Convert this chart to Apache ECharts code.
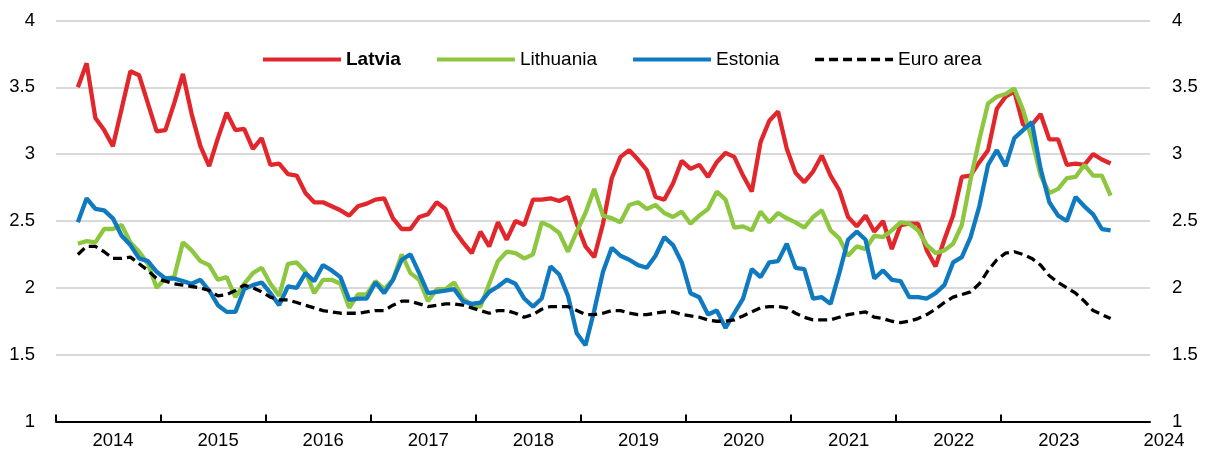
<!DOCTYPE html>
<html>
<head>
<meta charset="utf-8">
<script src="https://cdn.jsdelivr.net/npm/echarts@6/dist/echarts.min.js"></script>
<style>
html,body{margin:0;padding:0;background:#fff;}
#chart{width:1207px;height:453px;}
</style>
</head>
<body>
<div id="chart"></div>
<script>
// Monthly series, first observation March 2014, last January 2024
const firstYear = 2014;
const firstMonth = 3;
const yearLabels = [2014, 2015, 2016, 2017, 2018, 2019, 2020, 2021, 2022, 2023, 2024];

const latvia = [
  3.50,3.68,3.27,3.18,3.06,3.34,3.62,3.59,3.38,3.17,3.18,3.38,3.60,3.30,3.06,2.91,3.12,3.31,3.18,3.19,3.04,3.12,2.92,2.93,2.85,2.84,2.71,2.64,2.64,
  2.61,2.58,2.54,2.61,2.63,2.66,2.67,2.52,2.44,2.44,2.53,2.55,2.64,2.59,2.43,2.34,2.26,2.42,2.31,2.49,2.36,2.50,2.47,2.66,2.66,2.67,2.65,2.68,2.48,2.31,2.23,
  2.48,2.82,2.98,3.03,2.96,2.88,2.68,2.66,2.78,2.95,2.89,2.92,2.83,2.94,3.01,2.98,2.84,2.72,3.09,3.25,3.32,3.04,2.86,2.79,2.87,2.99,2.84,2.73,2.53,2.46,2.54,
  2.42,2.50,2.29,2.47,2.48,2.48,2.28,2.16,2.36,2.54,2.83,2.84,2.94,3.03,3.34,3.43,3.47,3.22,3.22,3.30,3.11,3.11,2.92,2.93,2.92,3.00,2.96,2.93
];
const lithuania = [
  2.33,2.35,2.34,2.44,2.44,2.47,2.34,2.27,2.18,2.00,2.07,2.08,2.34,2.28,2.20,2.17,2.06,2.08,1.93,2.03,2.11,2.15,2.03,1.94,2.18,2.19,2.12,1.96,2.06,
  2.06,2.03,1.85,1.95,1.95,2.05,1.99,2.06,2.25,2.11,2.06,1.90,1.99,1.99,2.04,1.92,1.87,1.86,2.03,2.20,2.27,2.26,2.22,2.25,2.49,2.46,2.41,2.27,2.42,2.56,2.74,
  2.54,2.52,2.49,2.62,2.64,2.59,2.62,2.56,2.53,2.57,2.48,2.54,2.59,2.72,2.66,2.45,2.46,2.43,2.57,2.49,2.56,2.52,2.49,2.45,2.53,2.58,2.43,2.37,2.24,2.31,2.29,
  2.39,2.38,2.43,2.49,2.48,2.43,2.32,2.26,2.28,2.33,2.47,2.81,3.11,3.38,3.43,3.45,3.49,3.33,3.11,2.84,2.71,2.74,2.82,2.83,2.92,2.84,2.84,2.69
];
const estonia = [
  2.49,2.67,2.59,2.58,2.52,2.39,2.32,2.22,2.20,2.12,2.07,2.07,2.05,2.03,2.06,1.98,1.87,1.82,1.82,1.99,2.02,2.04,1.96,1.87,2.01,2.00,2.11,2.05,2.17,
  2.13,2.08,1.91,1.92,1.92,2.04,1.96,2.06,2.21,2.25,2.11,1.96,1.97,1.98,1.99,1.90,1.88,1.89,1.97,2.01,2.06,2.03,1.92,1.86,1.92,2.16,2.10,1.94,1.66,1.57,1.83,
  2.12,2.30,2.24,2.21,2.17,2.15,2.24,2.38,2.32,2.19,1.96,1.93,1.80,1.83,1.70,1.81,1.92,2.14,2.08,2.19,2.20,2.33,2.15,2.14,1.92,1.93,1.88,2.11,2.36,2.42,2.36,
  2.07,2.13,2.06,2.05,1.93,1.93,1.92,1.96,2.02,2.19,2.23,2.38,2.61,2.92,3.03,2.91,3.12,3.18,3.24,2.89,2.64,2.54,2.50,2.68,2.61,2.55,2.44,2.43
];
const euroArea = [
  2.25,2.31,2.31,2.27,2.22,2.22,2.23,2.18,2.13,2.07,2.05,2.03,2.02,2.01,2.00,1.98,1.94,1.95,1.98,2.02,2.00,1.97,1.93,1.91,1.91,1.89,1.87,1.85,1.83,
  1.82,1.81,1.81,1.81,1.82,1.83,1.83,1.87,1.90,1.90,1.88,1.86,1.87,1.88,1.88,1.87,1.85,1.83,1.81,1.83,1.83,1.81,1.78,1.80,1.84,1.86,1.86,1.86,1.83,1.80,1.80,
  1.81,1.83,1.83,1.81,1.80,1.80,1.81,1.82,1.82,1.80,1.79,1.78,1.76,1.75,1.75,1.76,1.79,1.82,1.85,1.86,1.86,1.85,1.81,1.78,1.76,1.76,1.76,1.78,1.80,1.81,1.82,
  1.78,1.77,1.75,1.74,1.75,1.77,1.80,1.84,1.89,1.93,1.95,1.97,2.03,2.13,2.21,2.26,2.27,2.25,2.22,2.17,2.09,2.04,2.00,1.96,1.90,1.83,1.80,1.77
];

const FONT = 'Liberation Sans, Arial, sans-serif';
const baseYear = yearLabels[0];
// month index on the axis (0 = start of Jan of base year), points at mid-month
function toPoints(arr) {
  const start = (firstYear - baseYear) * 12 + (firstMonth - 1) + 0.5;
  return arr.map((v, k) => [start + k, v]);
}
const yearTicks = yearLabels.slice(0, -1).map(y => (y - baseYear) * 12);

const chart = echarts.init(document.getElementById('chart'), null, {renderer: 'canvas'});
const yAxisCommon = {
  type: 'value', min: 1, max: 4, interval: 0.5,
  axisLine: {show: false}, axisTick: {show: false},
  axisLabel: {fontSize: 18.5, color: '#000', fontFamily: FONT}
};
chart.setOption({
  animation: false,
  backgroundColor: '#fff',
  grid: [
    {left: 56, right: 57, top: 20.5, bottom: 31.5},
    {left: 113, right: 43, top: 20.5, bottom: 31.5}
  ],
  legend: {
    left: 256, top: 45,
    itemWidth: 78, itemHeight: 20, itemGap: 34,
    itemStyle: {opacity: 0},
    textStyle: {fontSize: 19, color: '#000', fontFamily: FONT},
    data: [
      {name: 'Latvia', textStyle: {fontWeight: 'bold'}, lineStyle: {width: 4}},
      {name: 'Lithuania', lineStyle: {width: 4}},
      {name: 'Estonia', lineStyle: {width: 4}},
      {name: 'Euro area', lineStyle: {width: 3.3}}
    ]
  },
  xAxis: [
    {
      gridIndex: 0, type: 'value', min: 0, max: 125,
      axisLine: {onZero: false, lineStyle: {color: '#000', width: 2}},
      axisTick: {show: true, inside: true, length: 7, lineStyle: {color: '#000', width: 2}, customValues: yearTicks},
      axisLabel: {show: false},
      splitLine: {show: false}
    },
    {
      gridIndex: 1, type: 'value', min: baseYear, max: yearLabels[yearLabels.length - 1], interval: 1,
      axisLine: {show: false}, axisTick: {show: false}, splitLine: {show: false},
      axisLabel: {formatter: v => String(v), fontSize: 18.5, color: '#000', fontFamily: FONT, margin: 10}
    }
  ],
  yAxis: [
    Object.assign({}, yAxisCommon, {gridIndex: 0, position: 'left',
      axisLabel: Object.assign({}, yAxisCommon.axisLabel, {margin: 21}),
      splitLine: {show: true, lineStyle: {color: '#D9D9D9', width: 2}}}),
    Object.assign({}, yAxisCommon, {gridIndex: 0, position: 'right',
      axisLabel: Object.assign({}, yAxisCommon.axisLabel, {margin: 22}),
      splitLine: {show: false}}),
    {gridIndex: 1, type: 'value', min: 0, max: 1, show: false}
  ],
  series: [
    {name: 'Latvia', type: 'line', xAxisIndex: 0, yAxisIndex: 0, data: toPoints(latvia),
      symbol: 'none', lineStyle: {color: '#E1262C', width: 4.3}, itemStyle: {color: '#E1262C'}},
    {name: 'Lithuania', type: 'line', xAxisIndex: 0, yAxisIndex: 0, data: toPoints(lithuania),
      symbol: 'none', lineStyle: {color: '#8DC63F', width: 4.3}, itemStyle: {color: '#8DC63F'}},
    {name: 'Estonia', type: 'line', xAxisIndex: 0, yAxisIndex: 0, data: toPoints(estonia),
      symbol: 'none', lineStyle: {color: '#0F7AC0', width: 4.3}, itemStyle: {color: '#0F7AC0'}},
    {name: 'Euro area', type: 'line', xAxisIndex: 0, yAxisIndex: 0, data: toPoints(euroArea),
      symbol: 'none', lineStyle: {color: '#000', width: 3.3, type: [9, 5]}, itemStyle: {color: '#000'}}
  ]
});
</script>
</body>
</html>
